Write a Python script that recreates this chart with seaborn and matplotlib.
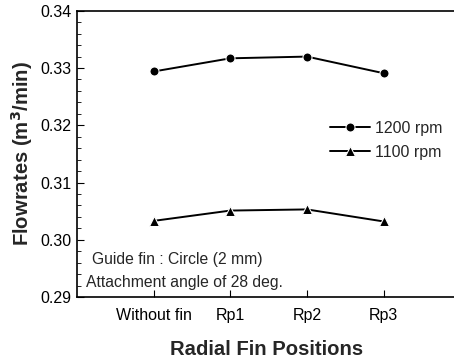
import matplotlib
matplotlib.use("Agg")
import matplotlib.pyplot as plt
import seaborn as sns
import pandas as pd
from matplotlib.ticker import MultipleLocator

categories = ["Without fin", "Rp1", "Rp2", "Rp3"]
rpm1200 = [0.3294, 0.3317, 0.3320, 0.3291]
rpm1100 = [0.3033, 0.3051, 0.3053, 0.3032]

sns.set_style("ticks")
plt.rcParams['font.family'] = ['Liberation Sans', 'DejaVu Sans']

df = pd.DataFrame({
    "pos": list(range(len(categories))) * 2,
    "flow": rpm1200 + rpm1100,
    "series": ["1200 rpm"] * 4 + ["1100 rpm"] * 4,
})

fig = plt.figure(figsize=(4.54, 3.6), dpi=100)
ax = fig.add_axes([0.170, 0.175, 0.835, 0.795])

sns.lineplot(data=df[df.series == "1200 rpm"], x="pos", y="flow", color="black",
             marker="o", markersize=6.5, linewidth=1.4, label="1200 rpm", ax=ax)
sns.lineplot(data=df[df.series == "1100 rpm"], x="pos", y="flow", color="black",
             marker="^", markersize=6.5, linewidth=1.4, label="1100 rpm", ax=ax)

ax.set_xlim(-1, 3.95)
ax.set_ylim(0.29, 0.34)
ax.set_xticks(range(len(categories)))
ax.set_xticklabels(categories, fontsize=11.5)
ax.yaxis.set_major_locator(MultipleLocator(0.01))
ax.yaxis.set_minor_locator(MultipleLocator(0.002))
ax.set_yticklabels([f"{v:.2f}" for v in ax.get_yticks()], fontsize=11.5)
ax.tick_params(axis="both", which="both", direction="in", colors="black")
ax.tick_params(axis="y", which="major", length=5, pad=4)
ax.tick_params(axis="y", which="minor", length=3)
ax.tick_params(axis="x", which="major", length=5, pad=8)

for s in ["left", "top", "bottom"]:
    ax.spines[s].set_linewidth(1.2)
    ax.spines[s].set_color("black")
ax.spines["right"].set_visible(False)

ax.set_xlabel("Radial Fin Positions", fontsize=14.6, fontweight="bold", labelpad=12)
ax.set_ylabel("Flowrates (m$^{\\mathbf{3}}$/min)", fontsize=14.6, fontweight="bold", labelpad=4)

ax.text(0.04, 0.115, "Guide fin : Circle (2 mm)", transform=ax.transAxes, fontsize=11.3)
ax.text(0.022, 0.035, "Attachment angle of 28 deg.", transform=ax.transAxes, fontsize=11.3)

ax.legend(loc="upper left", bbox_to_anchor=(0.63, 0.665), frameon=False, fontsize=11.5,
          handlelength=2.5, handletextpad=0.3, labelspacing=0.55)

fig.savefig("out.png", dpi=100)
